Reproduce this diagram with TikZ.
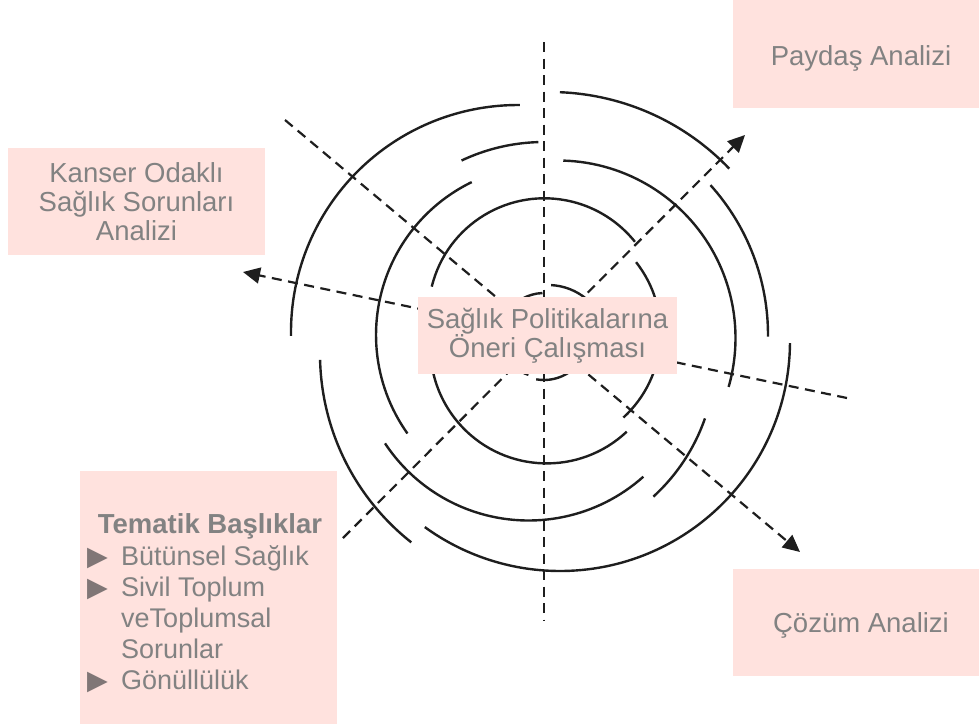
\documentclass[tikz,border=0pt]{standalone}
\usepackage{fontspec}
\setmainfont{Liberation Sans}
\newfontfamily\symbfont{DejaVu Sans}
\usetikzlibrary{arrows.meta}
\definecolor{boxpink}{RGB}{255,226,222}
\definecolor{labelgray}{RGB}{130,130,130}
\definecolor{bulletgray}{RGB}{128,118,118}
\definecolor{linedark}{RGB}{30,30,30}
\newcommand{\tribullet}{\makebox[34pt][l]{\raisebox{0pt}{\symbfont\fontsize{27}{27}\selectfont\textcolor{bulletgray}{▶}}}}
\newcommand{\itemgap}{\hspace*{34pt}}

\begin{document}
\begin{tikzpicture}[x=1pt,y=-1pt,
  ring/.style={draw=linedark,line width=2.4pt},
  spoke/.style={draw=linedark,line width=2.2pt,dash pattern=on 10pt off 6.5pt},
  tip/.style={-{Triangle[length=17pt,width=16pt]}},
  box/.style={fill=boxpink,text=labelgray,align=center,inner sep=0pt,
    font=\fontsize{27.5}{29}\selectfont},
]
\useasboundingbox (0,0) rectangle (979,724);
\clip (0,0) rectangle (979,724);

% spokes
\coordinate (ctr) at (544,335);
\coordinate (ntop) at (544,42);
\coordinate (sbot) at (544,621);
\coordinate (nwend) at (285,120);
\coordinate (setip) at (800,552);
\coordinate (swend) at (343,538);
\coordinate (netip) at (745,135);
\coordinate (eend) at (847,398);
\coordinate (wtip) at (243,272);
\draw[spoke] (ntop) -- (sbot);
\draw[spoke,tip] (nwend) -- (setip);
\draw[spoke,tip] (swend) -- (netip);
\draw[spoke,tip] (eend) -- (wtip);

% ring pieces: centre x / centre y / radius / start / end
\foreach \cx/\cy/\r/\a/\b in {
  518/332/227/179/270.5, 550/340/248/272.3/316.3, 544/335/224/318/360.4,
  560/341/230/0.5/126, 560/354/240/128.3/178.6,
  544/335/193/244.7/268.3, 546/335/170/144.6/244.1, 558/338/177.5/271.7/376,
  528.6/348.3/172.2/48.2/146.5, 524.6/355.6/191/19.2/47.6,
  544.4/314.3/116/193.8/321.3, 546/333/114.6/-38.2/47.5, 546.8/346.9/116.5/46.7/166.9,
  544/337/44/212/268, 548/345/60/273/310, 544/335/45/55/100, 542/333/44/108/150}
  \draw[ring] (\cx,\cy) ++(\a:\r) arc[start angle=\a, end angle=\b, radius=\r];

% boxes
\node[box, minimum width=259pt, minimum height=77pt] (merkez) at (547.5,335.3)
  {Sağlık Politikalarına\\Öneri Çalışması};
\node[box, minimum width=257pt, minimum height=107pt] (kanser) at (136.5,201.5)
  {Kanser Odaklı\\Sağlık Sorunları\\Analizi};
\node[box, minimum width=256pt, minimum height=108pt] (paydas) at (861,54)
  {\rule{0pt}{28pt}Paydaş Analizi};
\node[box, minimum width=256pt, minimum height=107pt] (cozum) at (861,622.5)
  {\rule{0pt}{25pt}Çözüm Analizi};
\node[box, minimum width=257pt, minimum height=253pt, anchor=north west] (tema) at (80,471) {};
\node[box, fill=none, font=\fontsize{27.5}{29}\selectfont\bfseries] (tematitle) at (210,526)
  {Tematik Başlıklar};
\node[box, fill=none, align=left, anchor=west, font=\fontsize{27}{31}\selectfont] (temalist) at (87,619)
  {\tribullet Bütünsel Sağlık\\\tribullet Sivil Toplum\\\itemgap veToplumsal\\\itemgap Sorunlar\\\tribullet Gönüllülük};
\end{tikzpicture}
\end{document}
